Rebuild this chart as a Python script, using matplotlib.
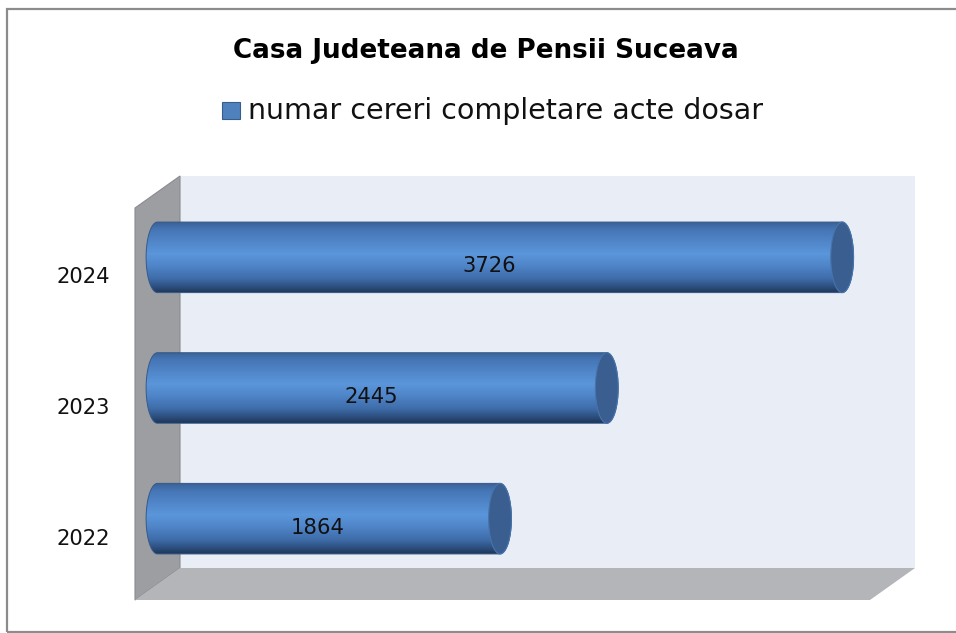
import numpy as np
import matplotlib
matplotlib.use("Agg")
import matplotlib.pyplot as plt
from matplotlib.patches import Rectangle, Polygon, PathPatch, Ellipse
from matplotlib.path import Path
from matplotlib.colors import LinearSegmentedColormap
from matplotlib.transforms import offset_copy

plt.rcParams['font.family'] = ['DejaVu Sans']

# ---- data ----
years = ['2022', '2023', '2024']
values = [1864, 2445, 3726]
title = 'Casa Judeteana de Pensii Suceava'
series_name = 'numar cereri completare acte dosar'
x_max = 4000

W, H = 956, 633
fig = plt.figure(figsize=(W / 100, H / 100), dpi=100)
fig.patch.set_facecolor('white')

# plotting plane (mid depth of the 3D box); a small negative margin leaves room for the cylinder ends
plane_left, plane_w = 157.5, 735.0
x_lo = -100
px_per_unit = plane_w / x_max
ax = fig.add_axes([(plane_left + x_lo * px_per_unit) / W, 49 / H,
                   (plane_w - x_lo * px_per_unit) / W, 392 / H])
ax.set_xlim(x_lo, x_max)
ax.set_ylim(-0.5, len(years) - 0.5)
ax.axis('off')

depth_dx, depth_dy = 22.5, 16  # pixels from mid plane to back plane
xt = ax.get_xaxis_transform()  # x in data, y in axes fraction

def pt(x_data, y_ax, ox, oy):
    d = xt.transform((x_data, y_ax)) + np.array([ox, oy])
    return fig.transFigure.inverted().transform(d)

# back wall
back_poly = [pt(0, 0, depth_dx, depth_dy), pt(x_max, 0, depth_dx, depth_dy),
             pt(x_max, 1, depth_dx, depth_dy), pt(0, 1, depth_dx, depth_dy)]
ax.add_patch(Polygon(back_poly, closed=True, transform=fig.transFigure, facecolor='#e9edf5',
                     edgecolor='none', zorder=0, clip_on=False))
# left side wall
lw_poly = [pt(0, 0, -depth_dx, -depth_dy), pt(0, 1, -depth_dx, -depth_dy),
           pt(0, 1, depth_dx, depth_dy), pt(0, 0, depth_dx, depth_dy)]
ax.add_patch(Polygon(lw_poly, closed=True, transform=fig.transFigure, facecolor='#9c9ea2',
                     edgecolor='#8a8c90', linewidth=0.8, zorder=0.5, clip_on=False))
# floor
fl_poly = [pt(0, 0, -depth_dx, -depth_dy), pt(x_max, 0, -depth_dx, -depth_dy),
           pt(x_max, 0, depth_dx, depth_dy), pt(0, 0, depth_dx, depth_dy)]
ax.add_patch(Polygon(fl_poly, closed=True, transform=fig.transFigure, facecolor='#b3b5b9',
                     edgecolor='none', zorder=0.5, clip_on=False))

# cylinders
cyl_cmap = LinearSegmentedColormap.from_list('cyl', [
    (0.00, '#3a6194'), (0.10, '#4575b4'), (0.30, '#5288cc'), (0.45, '#5b96da'),
    (0.62, '#4f84c8'), (0.80, '#3e6ca8'), (0.92, '#2c4d7c'), (1.00, '#1e3557')])
grad = cyl_cmap(np.linspace(0, 1, 256))[:, None, :]

bar_h = 0.54
cap_a = 62  # horizontal semi-axis of end ellipses (data units)
t_left = np.linspace(np.pi / 2, 3 * np.pi / 2, 60)
t_right = np.linspace(-np.pi / 2, np.pi / 2, 60)
for i, v in enumerate(values):
    yc = i
    xs = np.concatenate([0 + cap_a * np.cos(t_left), v + cap_a * np.cos(t_right)])
    ys = np.concatenate([yc + bar_h / 2 * np.sin(t_left), yc + bar_h / 2 * np.sin(t_right)])
    verts = np.column_stack([xs, ys])
    body = PathPatch(Path(np.vstack([verts, verts[:1]]), closed=True), facecolor='none',
                     edgecolor='#35598a', linewidth=0.7, zorder=3)
    ax.add_patch(body)
    im = ax.imshow(grad, extent=[-cap_a, v + cap_a, yc - bar_h / 2, yc + bar_h / 2], aspect='auto',
                   origin='upper', interpolation='bilinear', zorder=2)
    im.set_clip_path(body)
    ax.add_patch(Ellipse((v, yc), 2 * cap_a, bar_h, facecolor='#395e8f', edgecolor='#4774ad',
                         linewidth=0.8, zorder=4))
    # data label
    ax.text(v / 2, yc, str(v), transform=offset_copy(ax.transData, fig=fig, x=-11, y=-9, units='dots'),
            ha='center', va='center', fontsize=15.2, color='#111111', zorder=5)

ax.set_xlim(x_lo, x_max)
ax.set_ylim(-0.5, len(years) - 0.5)

# category labels (front plane)
ytrans = offset_copy(ax.transData, fig=fig, x=-depth_dx - 25, y=-depth_dy - 4, units='dots')
for i, yr in enumerate(years):
    ax.text(0, i, yr, transform=ytrans, ha='right', va='center', fontsize=15.2, color='#111111')

# title
fig.text(485.5 / W, 1 - 58.5 / H, title, ha='center', va='baseline', fontsize=18.9,
         fontweight='bold', color='#000000')

# legend
fig.patches.append(Rectangle((222 / W, 1 - 119 / H), 18 / W, 17 / H, transform=fig.transFigure,
                             facecolor='#4f81bd', edgecolor='#385d8a', linewidth=0.8))
fig.text(248 / W, 1 - 119 / H, series_name, ha='left', va='baseline', fontsize=20.5, color='#111111')

# outer frame
fig.patches.append(Rectangle((7 / W, 1 / H), 1.0, 623 / H, transform=fig.transFigure,
                             facecolor='none', edgecolor='#8c8c8c', linewidth=1.6, clip_on=False))

fig.savefig('out.png', dpi=100)
